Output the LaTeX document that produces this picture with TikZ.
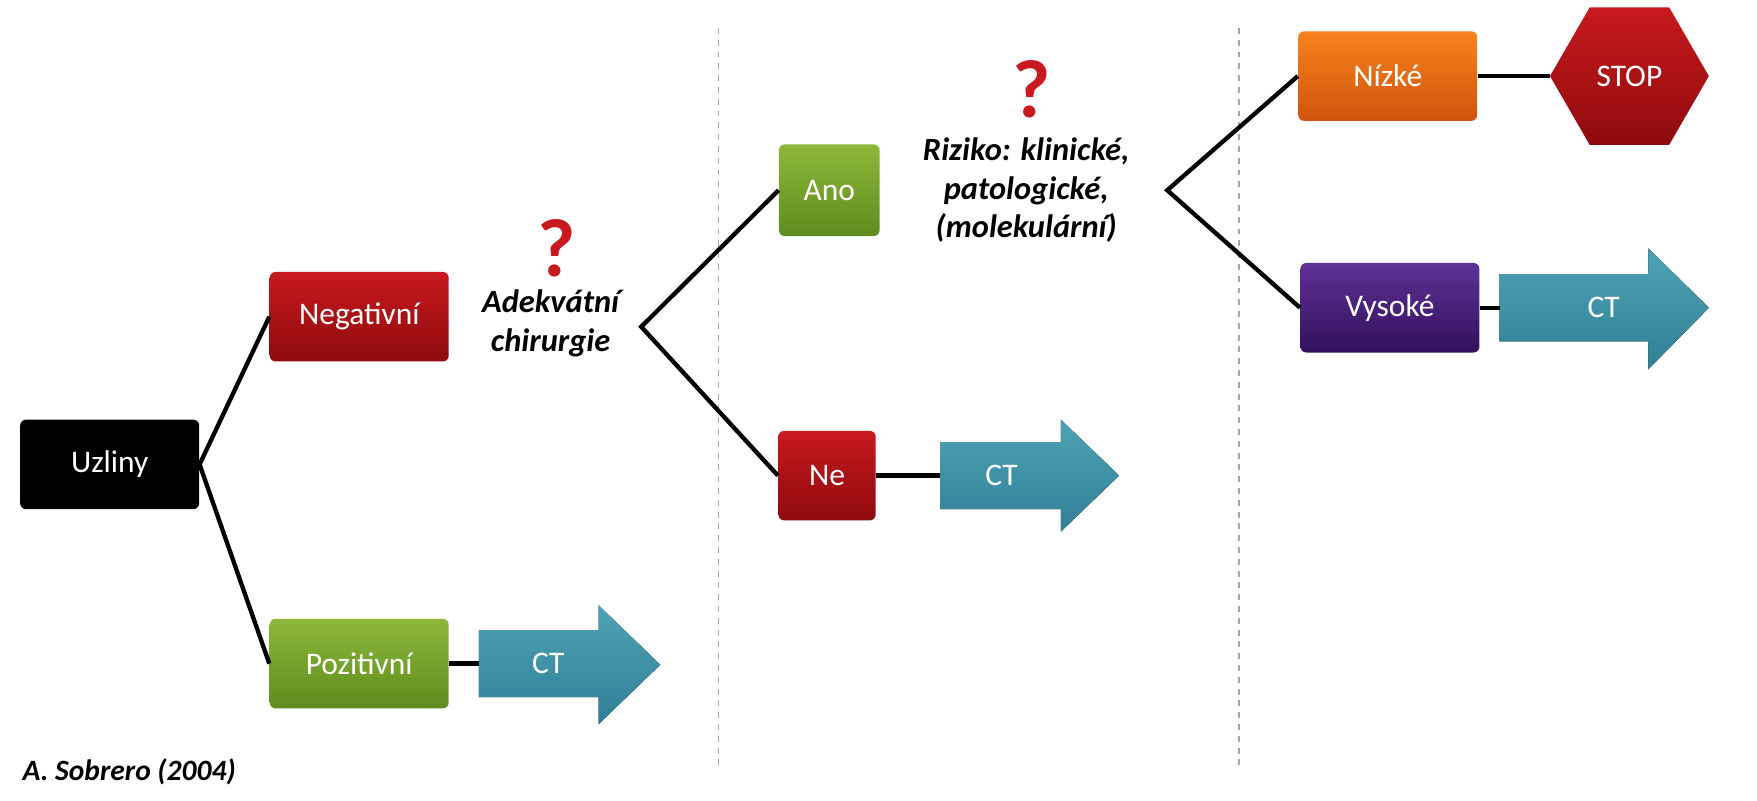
\documentclass[tikz,border=0pt]{standalone}
\usepackage{fontspec}
\setmainfont{Carlito}
\usetikzlibrary{shapes.geometric,shadings}
\definecolor{redT}{HTML}{C81A1E}\definecolor{redB}{HTML}{8E0A0E}
\definecolor{grT}{HTML}{8DB83A}\definecolor{grB}{HTML}{5E8C1E}
\definecolor{orT}{HTML}{F7821E}\definecolor{orB}{HTML}{D0540C}
\definecolor{puT}{HTML}{5E3296}\definecolor{puB}{HTML}{33105E}
\definecolor{ctT}{HTML}{4FA3B6}\definecolor{ctB}{HTML}{2F7F95}
\begin{document}
\begin{tikzpicture}[x=0.02cm,y=-0.02cm,
  box/.style={rounded corners=3pt,text=white,font=\fontsize{16}{18}\selectfont,minimum width=3.2cm,minimum height=1.6cm,inner sep=0pt},
  redbox/.style={box,top color=redT,bottom color=redB},
  greenbox/.style={box,top color=grT,bottom color=grB},
  ctn/.style={text=white,font=\fontsize{16}{18}\selectfont,minimum width=2.1cm,minimum height=1.2cm,inner sep=0pt},
  ctfill/.style={top color=ctT,bottom color=ctB},
  lab/.style={font=\bfseries\itshape\fontsize{16.5}{20}\selectfont,align=center},
  qm/.style={font=\bfseries\fontsize{42}{42}\selectfont,text=redT},
  ln/.style={line width=2.2pt},
  sep/.style={gray!70,dashed,line width=0.8pt}]
\useasboundingbox (0,0) rectangle (1570,715);
\draw[sep] (642,25) -- (642,685);
\draw[sep] (1107,25) -- (1107,685);
% nodes
\node[box,fill=black] (uz) at (98,415) {Uzliny};
\node[redbox] (neg) at (321,283) {Negativní};
\node[greenbox] (poz) at (321,593) {Pozitivní};
\node[greenbox,minimum width=1.8cm,minimum height=1.64cm] (ano) at (741,170) {Ano};
\node[redbox,minimum width=1.74cm] (ne) at (739,425) {Ne};
\node[box,top color=orT,bottom color=orB] (niz) at (1240,68) {Nízké};
\node[box,top color=puT,bottom color=puB] (vys) at (1242,275) {Vysoké};
\node[regular polygon,regular polygon sides=6,minimum size=2.84cm,inner sep=0pt,top color=redT,bottom color=redB,text=white,font=\fontsize{16}{18}\selectfont] (stop) at (1456,68) {};
\node[text=white,font=\fontsize{16}{18}\selectfont] at (stop) {STOP};
% CT arrows
\fill[ctfill] (428,563) -- (535,563) -- (535,541) -- (590,594) -- (535,647) -- (535,623) -- (428,623) -- cycle;
\node[ctn] (ct1) at (490,593) {CT};
\fill[ctfill] (840,395) -- (948,395) -- (948,375) -- (1000,425) -- (948,475) -- (948,455) -- (840,455) -- cycle;
\node[ctn] (ct2) at (895,425) {CT};
\fill[ctfill] (1340,245) -- (1473,245) -- (1473,222) -- (1527,275) -- (1473,330) -- (1473,305) -- (1340,305) -- cycle;
\node[ctn] (ct3) at (1433,275) {CT};
% labels
\node[qm] (q1) at (497,222) {?};
\node[lab] (l1) at (492,289) {Adekvátní\\chirurgie};
\node[qm] (q2) at (922,80) {?};
\node[lab,font=\bfseries\itshape\fontsize{16.5}{19.5}\selectfont] (l2) at (917,170) {Riziko: klinické,\\patologické,\\(molekulární)};
\node[font=\bfseries\itshape\fontsize{15}{17}\selectfont,anchor=west] (src) at (14,690) {A. Sobrero (2004)};
% connectors
\coordinate (f1) at (573,292);
\coordinate (f2) at (1043,170);
\draw[ln] (neg.west) -- (uz.east) -- (poz.west);
\draw[ln] (poz.east) -- (428,593);
\draw[ln] (ano.west) -- (f1) -- (ne.west);
\draw[ln] (ne.east) -- (840,425);
\draw[ln] (niz.west) -- (f2) -- (vys.west);
\draw[ln] (niz.east) -- (stop.west);
\draw[ln] (vys.east) -- (1340,275);
\end{tikzpicture}
\end{document}
